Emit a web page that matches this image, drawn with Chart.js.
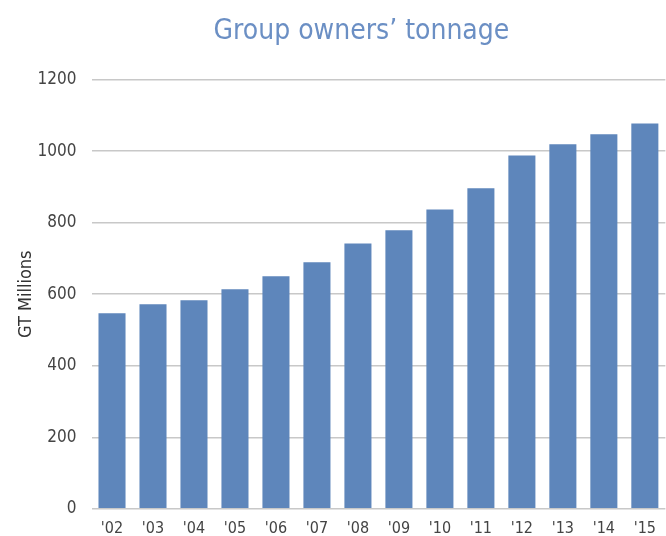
<!DOCTYPE html>
<html>
<head>
<meta charset="utf-8">
<script src="https://cdn.jsdelivr.net/npm/chart.js@4/dist/chart.umd.min.js"></script>
<style>
  html, body { margin: 0; padding: 0; background: #fff; }
  #wrap { width: 666px; height: 536px; }
</style>
</head>
<body>
<div id="wrap"><canvas id="barChart"></canvas></div>
<script>
// Years and tonnage (GT millions)
const years = ["'02", "'03", "'04", "'05", "'06", "'07", "'08", "'09", "'10", "'11", "'12", "'13", "'14", "'15"];
const tonnage = [547, 572, 583, 614, 650, 689, 742, 779, 837, 896, 988, 1019, 1047, 1077];
const yTicks = [0, 200, 400, 600, 800, 1000, 1200];

const narrow = "'Liberation Sans Narrow', 'DejaVu Sans Condensed', 'Liberation Sans', sans-serif";

// nudge the title so it sits a little left of the plot centre, like the original
const titleShift = {
  id: 'titleShift',
  afterLayout(chart) {
    const t = chart.titleBlock;
    if (t) {
      t.left = chart.chartArea.left - 34;
      t.right = chart.chartArea.right;
    }
  },
};

const ctx = document.getElementById('barChart').getContext('2d');
new Chart(ctx, {
  type: 'bar',
  data: {
    labels: years,
    datasets: [{
      label: 'GT Millions',
      data: tonnage,
      backgroundColor: '#5e86bb',
      borderWidth: 0,
      categoryPercentage: 1,
      barPercentage: 0.66,
    }],
  },
  options: {
    responsive: true,
    maintainAspectRatio: false,
    animation: false,
    // tick padding is counted twice by the scales, so the bottom gets pulled back a bit
    layout: { padding: { left: 0, right: 0, top: 11, bottom: -12 } },
    plugins: {
      legend: { display: false },
      tooltip: { enabled: false },
      title: {
        display: true,
        text: 'Group owners\u2019 tonnage',
        color: '#6b8fc4',
        fullSize: false,
        font: { family: narrow, size: 28, weight: 'normal' },
        padding: { top: 4, bottom: 31 },
      },
    },
    scales: {
      x: {
        grid: { display: false, drawTicks: false },
        border: { display: false },
        ticks: { color: '#444', font: { family: narrow, size: 16 }, padding: 10, maxRotation: 0 },
      },
      y: {
        min: yTicks[0],
        max: yTicks[yTicks.length - 1],
        afterBuildTicks: (axis) => { axis.ticks = yTicks.map(v => ({ value: v })); },
        grid: { color: '#c8c8c8', lineWidth: 1.5, drawTicks: false },
        border: { display: false },
        ticks: {
          color: '#444',
          font: { family: narrow, size: 17 },
          padding: 15,
          callback: (v) => String(v),
        },
        title: {
          display: true,
          text: 'GT Millions',
          color: '#333',
          font: { family: narrow, size: 18 },
          padding: { top: 16, bottom: -15 },
        },
      },
    },
  },
  plugins: [titleShift],
});
</script>
</body>
</html>
